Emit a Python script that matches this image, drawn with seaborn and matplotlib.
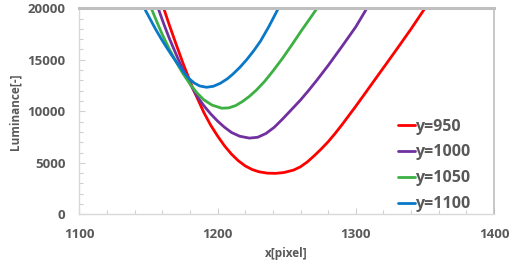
import matplotlib
matplotlib.use("Agg")
import matplotlib.pyplot as plt
import seaborn as sns
import pandas as pd
from matplotlib.ticker import MultipleLocator

series_names = ["y=950", "y=1000", "y=1050", "y=1100"]
colors = ["#ff0000", "#7030a0", "#3cb043", "#0a78c8"]

x_950 = [1161, 1165, 1170, 1175, 1182, 1190, 1195, 1200, 1205, 1210, 1215, 1220, 1225, 1230, 1236,
         1242, 1248, 1255, 1260, 1265, 1270, 1275, 1280, 1285, 1290, 1295, 1300, 1307, 1315, 1322,
         1330, 1340, 1350]
y_950 = [20000, 18400, 16500, 14650, 12250, 9900, 8650, 7600, 6650, 5850, 5200, 4700, 4350, 4130, 4000,
         3980, 4060, 4300, 4620, 5100, 5700, 6350, 7050, 7850, 8700, 9600, 10500, 11800, 13300, 14600,
         16100, 18000, 20000]

x_1000 = [1157, 1161, 1165, 1172, 1176, 1181, 1185, 1190, 1195, 1200, 1205, 1210, 1216, 1223, 1229,
          1235, 1241, 1247, 1253, 1260, 1266, 1272, 1280, 1290, 1300, 1308]
y_1000 = [20000, 18500, 17100, 14900, 13750, 12450, 11500, 10550, 9750, 9050, 8450, 7950, 7580, 7400, 7480,
          7850, 8450, 9250, 10100, 11100, 12050, 13050, 14450, 16300, 18200, 20000]

x_1050 = [1152, 1156, 1160, 1165, 1170, 1175, 1180, 1185, 1190, 1196, 1203, 1208, 1213, 1218, 1223,
          1228, 1234, 1240, 1247, 1254, 1260, 1266, 1272]
y_1050 = [20000, 18700, 17450, 16050, 14800, 13650, 12650, 11800, 11120, 10600, 10300, 10330, 10550, 10950, 11450,
          12050, 12900, 13900, 15150, 16500, 17700, 18850, 20000]

x_1100 = [1147, 1151, 1155, 1159, 1163, 1167, 1171, 1175, 1179, 1183, 1187, 1192, 1197, 1202, 1207,
          1211, 1216, 1221, 1226, 1231, 1237, 1244]
y_1100 = [20000, 19000, 18000, 17080, 16220, 15400, 14620, 13880, 13220, 12750, 12460, 12330, 12430, 12720, 13150,
          13600, 14250, 15000, 15850, 16800, 18200, 20000]

xs = [x_950, x_1000, x_1050, x_1100]
ys = [y_950, y_1000, y_1050, y_1100]

frames = []
for name, xv, yv in zip(series_names, xs, ys):
    frames.append(pd.DataFrame({"x": xv, "y": yv, "series": name}))
df = pd.concat(frames, ignore_index=True)

sns.set_style("white")
plt.rcParams["font.family"] = ["Open Sans", "DejaVu Sans"]

fig = plt.figure(figsize=(5.12, 2.65), dpi=100)
ax = fig.add_axes([0.155, 0.191, 0.81, 0.778])

sns.lineplot(data=df, x="x", y="y", hue="series", hue_order=series_names,
             palette=colors, linewidth=2.0, sort=False, estimator=None,
             ax=ax, legend=True)
for ln in ax.get_lines():
    ln.set_solid_joinstyle("round")

ax.set_xlim(1100, 1400)
ax.set_ylim(0, 20000)
ax.xaxis.set_major_locator(MultipleLocator(100))
ax.xaxis.set_minor_locator(MultipleLocator(20))
ax.yaxis.set_major_locator(MultipleLocator(5000))
ax.yaxis.set_minor_locator(MultipleLocator(1000))

tick_col = "#595959"
ax.tick_params(axis="both", which="both", direction="in", colors="#d0d0d0",
               labelcolor=tick_col, labelsize=9.5, pad=10)
ax.tick_params(axis="both", which="major", length=4, width=0.8)
ax.tick_params(axis="both", which="minor", length=3, width=0.8)
ax.tick_params(axis="x", bottom=True, which="both")
ax.tick_params(axis="y", left=True, which="both")
for lab in ax.get_xticklabels() + ax.get_yticklabels():
    lab.set_fontweight("bold")

ax.set_xlabel("x[pixel]", fontsize=8.5, color=tick_col, fontweight="bold", labelpad=4)
ax.set_ylabel("Luminance[-]", fontsize=8.5, color=tick_col, fontweight="bold", labelpad=4)

for side in ["left", "bottom"]:
    ax.spines[side].set_color("#d9d9d9")
    ax.spines[side].set_linewidth(1.0)
ax.spines["top"].set_color("#bfbfbf")
ax.spines["top"].set_linewidth(2.2)
ax.spines["right"].set_color("#bfbfbf")
ax.spines["right"].set_linewidth(1.2)
ax.grid(False)

handles, labels = ax.get_legend_handles_labels()
ax.legend(handles, labels, loc="lower left", bbox_to_anchor=(0.76, -0.005),
          frameon=False, handlelength=1.05, handletextpad=0.05, labelspacing=0.62,
          borderaxespad=0.0, borderpad=0.2, labelcolor=tick_col,
          prop={"weight": "bold", "size": 11.5})

fig.savefig("out.png", dpi=100)
